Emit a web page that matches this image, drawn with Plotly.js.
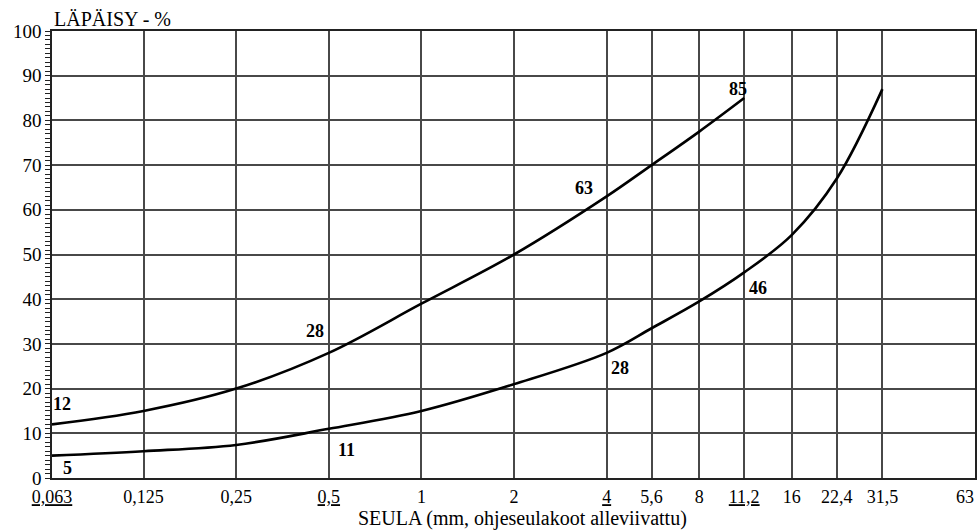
<!DOCTYPE html>
<html>
<head>
<meta charset="utf-8">
<script src="https://cdn.plot.ly/plotly-3.0.1.min.js"></script>
<style>
  html, body { margin: 0; padding: 0; background: #fff; }
  #chart { width: 977px; height: 531px; }
  #chart .gridlayer path { shape-rendering: crispEdges; }
</style>
</head>
<body>
<div id="chart"></div>
<script>
// Sieve sizes (mm) and their printed labels
const sieves = [0.063, 0.125, 0.25, 0.5, 1, 2, 4, 5.6, 8, 11.2, 16, 22.4, 31.5, 63];
const sieveLabels = ['0,063', '0,125', '0,25', '0,5', '1', '2', '4', '5,6', '8', '11,2', '16', '22,4', '31,5', '63'];
// Guideline sieves (underlined on the axis, value labels on the curves)
const guideSieves = [0.063, 0.5, 4, 11.2];

// Fine limit curve: passing % per sieve
const upperSieves = [0.063, 0.125, 0.25, 0.5, 1, 2, 4, 5.6, 8, 11.2];
const upperPassing = [12, 15, 20, 28, 39, 50, 63, 70, 77.5, 85];

// Coarse limit curve: passing % per sieve
const lowerSieves = [0.063, 0.125, 0.25, 0.5, 1, 2, 4, 5.6, 8, 11.2, 16, 22.4, 31.5];
const lowerPassing = [5, 6, 7.4, 11, 15, 21, 28, 33.5, 39.5, 46, 54.4, 67, 87];

const serif = "'Liberation Serif', 'Times New Roman', serif";

// Pixel nudges for the value labels at the guideline sieves
const upperLabelShift = { 0.063: [10, 20], 0.5: [-14, 22], 4: [-23, 8], 11.2: [-6, 9] };
const lowerLabelShift = { 0.063: [15, -12], 0.5: [18, -21], 4: [13, -15], 11.2: [14, -16] };

function valueLabels(xs, ys, shifts) {
  const out = [];
  xs.forEach((s, i) => {
    if (!guideSieves.includes(s)) return;
    const sh = shifts[s];
    out.push({
      x: Math.log10(s), y: ys[i], xref: 'x', yref: 'y',
      text: '<b>' + ys[i] + '</b>', showarrow: false,
      xshift: sh[0], yshift: sh[1],
      font: { family: serif, size: 18, color: '#000' }
    });
  });
  return out;
}

const lineStyle = { color: '#000', width: 2.6, shape: 'spline', smoothing: 1 };

const traces = [
  { x: upperSieves, y: upperPassing, mode: 'lines', line: lineStyle, hoverinfo: 'x+y' },
  { x: lowerSieves, y: lowerPassing, mode: 'lines', line: lineStyle, hoverinfo: 'x+y' }
];

// Guideline sieves underlined; the last label sits at the right edge, so it is
// drawn as a right-aligned annotation instead of a centred tick label
const lastIdx = sieves.length - 1;
const tickText = sieves.map((s, i) => {
  if (i === lastIdx) return '';
  return guideSieves.includes(s) ? '<u>' + sieveLabels[i] + '</u>' : sieveLabels[i];
});

const layout = {
  width: 977, height: 531,
  margin: { l: 52, r: 2, t: 31, b: 53 },
  paper_bgcolor: '#fff', plot_bgcolor: '#fff',
  showlegend: false,
  font: { family: serif, color: '#000' },
  xaxis: {
    type: 'log',
    range: [Math.log10(0.063), Math.log10(63)],
    tickmode: 'array', tickvals: sieves, ticktext: tickText,
    ticks: '', tickfont: { family: serif, size: 18, color: '#000' },
    ticklabelstandoff: 2,
    showgrid: true, gridcolor: '#484848', gridwidth: 2,
    showline: true, linecolor: '#222', linewidth: 1.6, mirror: true,
    zeroline: false, fixedrange: true
  },
  yaxis: {
    range: [0, 100], dtick: 10, tick0: 0,
    ticks: 'outside', ticklen: 5, tickcolor: '#222', tickwidth: 1,
    tickfont: { family: serif, size: 19, color: '#000' },
    minor: { dtick: 1, ticks: 'outside', ticklen: 5, tickcolor: '#222', tickwidth: 1, showgrid: false },
    showgrid: true, gridcolor: '#484848', gridwidth: 2,
    showline: true, linecolor: '#222', linewidth: 1.6, mirror: true,
    zeroline: false, fixedrange: true
  },
  annotations: [
    { text: 'LÄPÄISY - %', xref: 'paper', yref: 'paper', x: 0, y: 1.027,
      xanchor: 'left', yanchor: 'middle', showarrow: false,
      font: { family: serif, size: 20, color: '#000' } },
    { text: 'SEULA (mm, ohjeseulakoot alleviivattu)', xref: 'paper', yref: 'paper', x: 0.51, y: -0.09,
      xanchor: 'center', yanchor: 'middle', showarrow: false,
      font: { family: serif, size: 20, color: '#000' } },
    { text: sieveLabels[lastIdx], xref: 'paper', yref: 'paper', x: 1, y: -0.043,
      xanchor: 'right', yanchor: 'middle', showarrow: false, xshift: 1,
      font: { family: serif, size: 18, color: '#000' } }
  ].concat(valueLabels(upperSieves, upperPassing, upperLabelShift))
   .concat(valueLabels(lowerSieves, lowerPassing, lowerLabelShift))
};

Plotly.newPlot('chart', traces, layout, { displayModeBar: false, staticPlot: true });
</script>
</body>
</html>
